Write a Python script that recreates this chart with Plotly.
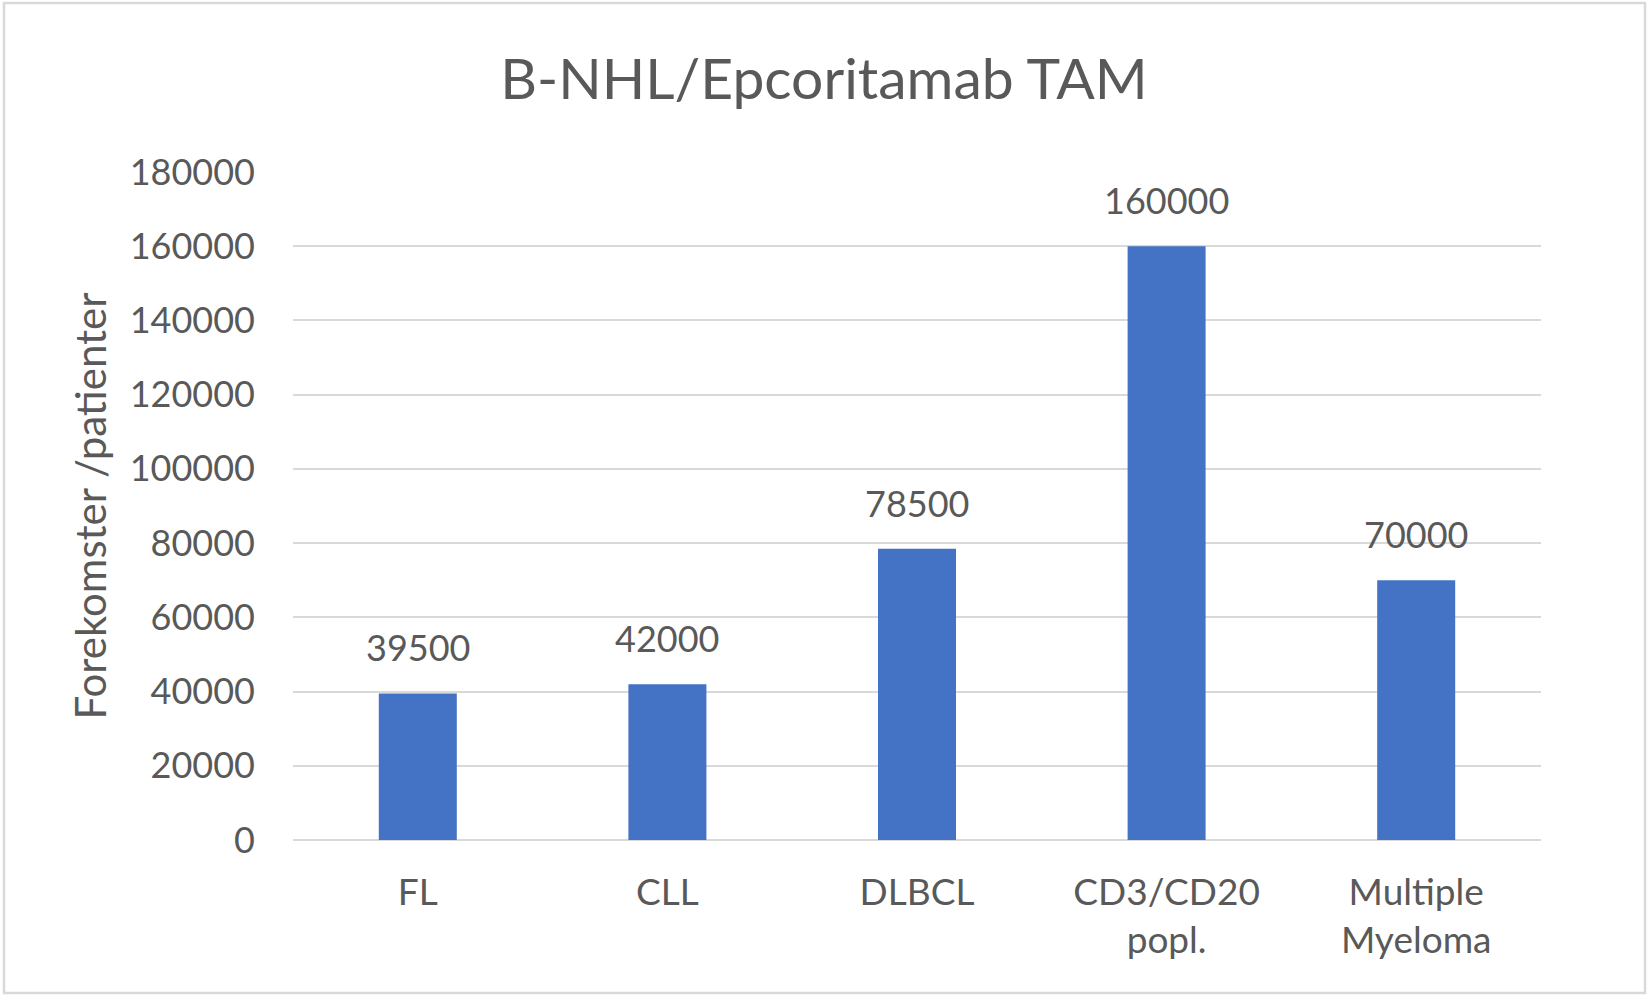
import plotly.graph_objects as go

categories = ["FL", "CLL", "DLBCL", "CD3/CD20<br>popl.", "Multiple<br>Myeloma"]
values = [39500, 42000, 78500, 160000, 70000]
y_ticks = [0, 20000, 40000, 60000, 80000, 100000, 120000, 140000, 160000, 180000]

W, H = 1650, 999
L, R, T, B = 293, 109, 172, 159
pw, ph = W - L - R, H - T - B

TXT = "#595959"
FONT = "Lato"

fig = go.Figure()
fig.add_trace(go.Bar(x=categories, y=values, marker=dict(color="#4472C4", line=dict(width=0)),
                     width=0.3125))

for c, v in zip(categories, values):
    fig.add_annotation(x=c, y=v, text=str(v), showarrow=False, yanchor="bottom",
                       yshift=22, font=dict(family=FONT, size=36, color=TXT))

fig.add_shape(type="rect", xref="paper", yref="paper",
              x0=(4 - L) / pw, x1=(1645 - L) / pw,
              y0=(H - B - 993) / ph, y1=(H - B - 3) / ph,
              line=dict(color="#D9D9D9", width=2.5), fillcolor="rgba(0,0,0,0)", layer="below")

fig.update_layout(
    width=W, height=H,
    margin=dict(l=L, r=R, t=T, b=B),
    paper_bgcolor="white", plot_bgcolor="white",
    showlegend=False,
    title=dict(text="B-NHL/Epcoritamab TAM", x=(824) / W, xanchor="center",
               y=1 - 79 / H, yanchor="middle", yref="container",
               font=dict(family=FONT, size=57, color=TXT)),
    font=dict(family=FONT, color=TXT),
    xaxis=dict(showgrid=False, showline=False, ticks="", tickfont=dict(family=FONT, size=37, color=TXT),
               ticklabelstandoff=27),
    yaxis=dict(range=[0, 180000], tickvals=y_ticks, ticktext=[str(t) for t in y_ticks],
               showgrid=True, gridcolor="#D9D9D9", gridwidth=2, zeroline=True, zerolinecolor="#D9D9D9",
               zerolinewidth=2, showline=False, ticks="",
               tickfont=dict(family=FONT, size=36, color=TXT), ticklabelstandoff=37,
               title=dict(text="Forekomster /patienter", standoff=10,
                          font=dict(family=FONT, size=42, color=TXT))),
)

fig.write_html("out.html")
